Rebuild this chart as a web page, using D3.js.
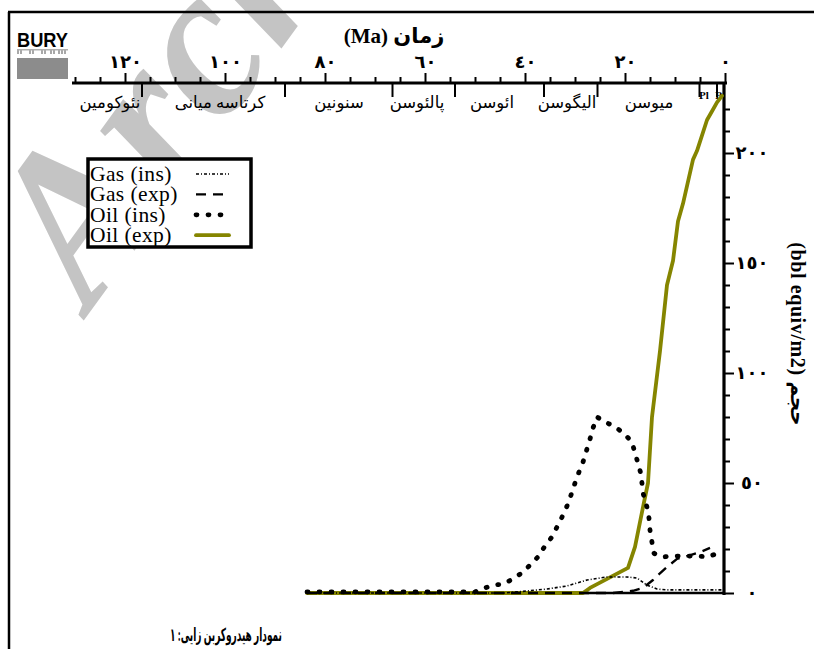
<!DOCTYPE html>
<html>
<head>
<meta charset="utf-8">
<script src="https://cdn.jsdelivr.net/npm/d3@7"></script>
<style>
  html, body { margin: 0; padding: 0; background: #fff; }
  svg { display: block; }
</style>
</head>
<body>
<svg id="chart" width="814" height="649"></svg>
<script>
// ---- Time axis (Ma) ----
const ageMajorTicks = [120, 100, 80, 60, 40, 20, 0];
const ageMajorLabels = ["١٢٠", "١٠٠", "٨٠", "٦٠", "٤٠", "٢٠", "٠"];
const ageMinorStep = 5;

// ---- Stratigraphic epochs ----
const epochBoundaries = [116.6, 88, 66.5, 54, 36.2, 25.5, 5.1, 1.6];
const epochNames = ["نئوکومین", "کرتاسه میانی", "سنونین", "پالئوسن", "ائوسن", "الیگوسن", "میوسن"];
const epochLabelAges = [123, 101, 77.2, 61.6, 46.6, 31.6, 15.2];
const shortEpochNames = ["Pl", "P"];
const shortEpochAges = [4.2, 1.3];

// ---- Volume axis ----
const volMajorTicks = [0, 50, 100, 150, 200];
const volMajorLabels = ["٠", "٥٠", "١٠٠", "١٥٠", "٢٠٠"];
const volMinorStep = 10;

// ---- Series: age (Ma) and cumulative volume (bbl equiv/m2) ----
const oilExpAge = [83.6, 28.4, 27, 19.4, 18, 16.4, 15.4, 15, 14.6, 13, 11.6, 10.4, 9.4, 8.4, 6.4, 5.6, 3.6, 2.6, 1.6, 0.6];
const oilExp    = [0, 0, 2.3, 11.4, 21, 39, 50, 65, 80, 110, 140, 151, 169, 177, 197, 201, 215, 219, 223, 226];

const oilInsAge = [83.6, 50, 48.6, 46.4, 44.4, 42.4, 40.4, 39, 37.4, 36, 34.6, 33.6, 32.6, 31.6, 30.8, 30, 29.2, 28.4, 27.8, 27, 26.4, 25.6, 24.2, 22.4, 20.4, 18.6, 18, 17.4, 16.8, 16.4, 15.6, 15.2, 15, 14.6, 14.2, 12.4, 10.4, 8, 5.6, 3.4, 1.6];
const oilIns    = [0.5, 0.5, 1.8, 3.6, 4, 6.4, 9.5, 12.7, 16.4, 21.4, 25.5, 30, 34.5, 39.5, 44.5, 50, 55, 59.5, 64, 70, 75, 80, 78, 76, 73, 68.6, 63.6, 59, 54, 45.5, 39, 34, 28.6, 23, 18, 16.4, 16.8, 16.8, 16.8, 16.4, 18];

const gasInsAge = [83.6, 44, 41.6, 35.6, 31.6, 27.6, 23.6, 19.6, 17.6, 15.6, 13.6, 11.6, 0.4];
const gasIns    = [0, 0, 0.5, 1.8, 3.2, 5.9, 7.3, 7.3, 6.8, 3.6, 1.8, 1.4, 1.4];

const gasExpAge = [83.6, 22.4, 18.4, 16.4, 14.4, 13.6, 11.6, 9.6, 7.6, 5, 3];
const gasExp    = [0, 0, 1, 2.3, 5.9, 7.7, 11.8, 15.5, 16.8, 18.6, 20.5];

const legendNames = ["Gas (ins)", "Gas (exp)", "Oil (ins)", "Oil (exp)"];

// ---- Styles ----
const OLIVE = "#858500";
const styles = {
  "Gas (ins)": { stroke: "#000", width: 1.6, dash: "3 2 1 2", cap: "butt" },
  "Gas (exp)": { stroke: "#000", width: 2.4, dash: "10 7", cap: "butt" },
  "Oil (ins)": { stroke: "#000", width: 4.8, dash: "1 11", cap: "round" },
  "Oil (exp)": { stroke: OLIVE, width: 3.8, dash: null, cap: "round" }
};

const svg = d3.select("#chart");
const serif = "'Liberation Serif', 'Times New Roman', 'DejaVu Sans', serif";
const persian = "'Liberation Serif', 'DejaVu Sans', sans-serif";

// Scales
const x = d3.scaleLinear().domain([130.6, 0]).range([72, 725]);
const y = d3.scaleLinear().domain([0, 230]).range([593, 87]);

// ---- Background watermark ----
svg.append("text")
  .attr("transform", "translate(76,212) rotate(-54)")
  .attr("x", -72).attr("y", 70)
  .attr("font-family", serif)
  .attr("font-style", "italic")
  .attr("font-weight", "bold")
  .attr("font-size", 214)
  .attr("fill", "#c4c4c4")
  .text("Archive");

// ---- Frame lines ----
svg.append("line").attr("x1", 8).attr("x2", 814).attr("y1", 12).attr("y2", 12)
  .attr("stroke", "#000").attr("stroke-width", 2.5);
svg.append("line").attr("x1", 9).attr("x2", 9).attr("y1", 12).attr("y2", 649)
  .attr("stroke", "#000").attr("stroke-width", 2.5);

// ---- Well logo ----
const logo = svg.append("g");
logo.append("text")
  .attr("x", 17).attr("y", 47)
  .attr("font-family", "'Liberation Sans Narrow', 'Liberation Sans', Arial, sans-serif")
  .attr("font-weight", "bold").attr("font-size", 21)
  .attr("textLength", 51).attr("lengthAdjust", "spacingAndGlyphs")
  .attr("fill", "#000").text("BURY");
// faint reflection strokes under the name
logo.append("g").selectAll("rect").data([17, 20, 29, 32, 41, 44, 50, 53, 58, 61, 64]).join("rect")
  .attr("x", d => d).attr("y", 49).attr("width", 2).attr("height", 5)
  .attr("fill", "#a8a8a8");
logo.append("rect").attr("x", 17).attr("y", 49).attr("width", 51).attr("height", 1.5)
  .attr("fill", "#b0b0b0");
logo.append("rect").attr("x", 17).attr("y", 58).attr("width", 51).attr("height", 21)
  .attr("fill", "#8c8c8c");

// ---- Top time axis ----
const topAxisY = 83;
const minorAge = d3.range(0, 131, ageMinorStep).filter(d => !ageMajorTicks.includes(d));
const gTopMinor = svg.append("g").attr("transform", `translate(0,${topAxisY})`)
  .call(d3.axisTop(x).tickValues(minorAge).tickSize(6).tickSizeOuter(0).tickFormat(""));
const gTop = svg.append("g").attr("transform", `translate(0,${topAxisY})`)
  .call(d3.axisTop(x).tickValues(ageMajorTicks).tickSize(10).tickSizeOuter(0).tickPadding(5)
    .tickFormat((d, i) => ageMajorLabels[i]));
[gTopMinor, gTop].forEach(g => {
  g.selectAll(".tick line").attr("stroke", "#000").attr("stroke-width", 2);
  g.select(".domain").attr("stroke", "#000").attr("stroke-width", 3.2);
});
gTop.selectAll(".tick text")
  .attr("font-family", persian).attr("font-weight", "bold").attr("font-size", 18)
  .attr("fill", "#000");
gTop.select(".domain").attr("d", `M${x(130.6)},0H${x(0) + 2}`);
gTopMinor.select(".domain").remove();

// Axis title
svg.append("text")
  .attr("x", 394).attr("y", 43)
  .attr("text-anchor", "middle")
  .attr("font-family", serif).attr("font-weight", "bold").attr("font-size", 21)
  .text("(Ma) زمان");

// Epoch boundary marks and names
svg.append("g").selectAll("line").data(epochBoundaries).join("line")
  .attr("x1", d => x(d)).attr("x2", d => x(d))
  .attr("y1", topAxisY).attr("y2", topAxisY + 14)
  .attr("stroke", "#000").attr("stroke-width", 2);
svg.append("g").selectAll("text").data(epochNames).join("text")
  .attr("x", (d, i) => x(epochLabelAges[i]))
  .attr("y", 108)
  .attr("text-anchor", "middle")
  .attr("font-family", persian).attr("font-size", 16.5)
  .text(d => d);
svg.append("g").selectAll("text").data(shortEpochNames).join("text")
  .attr("x", (d, i) => x(shortEpochAges[i]))
  .attr("y", 99)
  .attr("text-anchor", "middle")
  .attr("font-family", serif).attr("font-weight", "bold").attr("font-size", 11)
  .text(d => d);

// ---- Right volume axis ----
const axisX = 724;
const minorVol = d3.range(0, 221, volMinorStep).filter(d => !volMajorTicks.includes(d));
const gRightMinor = svg.append("g").attr("transform", `translate(${axisX},0)`)
  .call(d3.axisRight(y).tickValues(minorVol).tickSize(6).tickSizeOuter(0).tickFormat(""));
const gRight = svg.append("g").attr("transform", `translate(${axisX},0)`)
  .call(d3.axisRight(y).tickValues(volMajorTicks).tickSize(10).tickSizeOuter(0).tickPadding(16)
    .tickFormat((d, i) => volMajorLabels[i]));
[gRightMinor, gRight].forEach(g => {
  g.selectAll(".tick line").attr("stroke", "#000").attr("stroke-width", 2);
  g.select(".domain").remove();
});
gRight.selectAll(".tick text")
  .attr("text-anchor", "middle")
  .attr("x", 28)
  .attr("font-family", persian).attr("font-weight", "bold").attr("font-size", 18)
  .attr("fill", "#000");
svg.append("line").attr("x1", axisX).attr("x2", axisX)
  .attr("y1", topAxisY - 1).attr("y2", y(0) + 2)
  .attr("stroke", "#000").attr("stroke-width", 3.2);

// Axis title (rotated)
svg.append("text")
  .attr("transform", "translate(791,334) rotate(90)")
  .attr("text-anchor", "middle")
  .attr("font-family", serif).attr("font-weight", "bold").attr("font-size", 20)
  .attr("letter-spacing", 0.6)
  .text("(bbl equiv/m2) حجم");

// ---- Baseline ----
svg.append("line")
  .attr("x1", x(83.6)).attr("x2", axisX)
  .attr("y1", y(0)).attr("y2", y(0))
  .attr("stroke", "#000").attr("stroke-width", 2.6);

// ---- Series ----
const line = d3.line().x(d => x(d[0])).y(d => y(d[1]));
const series = [
  { name: "Oil (exp)", ages: oilExpAge, vals: oilExp },
  { name: "Gas (exp)", ages: gasExpAge, vals: gasExp },
  { name: "Gas (ins)", ages: gasInsAge, vals: gasIns },
  { name: "Oil (ins)", ages: oilInsAge, vals: oilIns }
];
series.forEach(s => {
  const st = styles[s.name];
  svg.append("path")
    .datum(s.ages.map((a, i) => [a, s.vals[i]]))
    .attr("d", line)
    .attr("fill", "none")
    .attr("stroke", st.stroke)
    .attr("stroke-width", st.width)
    .attr("stroke-linecap", st.cap)
    .attr("stroke-linejoin", "round")
    .attr("stroke-dasharray", st.dash);
});

// ---- Legend ----
const legend = svg.append("g");
legend.append("rect")
  .attr("x", 88).attr("y", 159).attr("width", 163).attr("height", 88)
  .attr("fill", "#fff").attr("stroke", "#000").attr("stroke-width", 3.5);
legendNames.forEach((name, i) => {
  const st = styles[name];
  const by = 181 + i * 20.4;
  legend.append("text")
    .attr("x", 90).attr("y", by)
    .attr("font-family", serif).attr("font-size", 21.5).attr("letter-spacing", 0.4)
    .text(name);
  legend.append("line")
    .attr("x1", 196).attr("x2", 229)
    .attr("y1", by - 7).attr("y2", by - 7)
    .attr("stroke", st.stroke)
    .attr("stroke-width", st.width)
    .attr("stroke-linecap", st.cap)
    .attr("stroke-dasharray", st.dash);
});

// ---- Caption ----
svg.append("text")
  .attr("x", 282).attr("y", 641)
  .attr("text-anchor", "end")
  .attr("font-family", persian).attr("font-weight", "bold").attr("font-size", 18)
  .attr("textLength", 112).attr("lengthAdjust", "spacingAndGlyphs")
  .text("نمودار هیدروکربن زایی: ١");
</script>
</body>
</html>
